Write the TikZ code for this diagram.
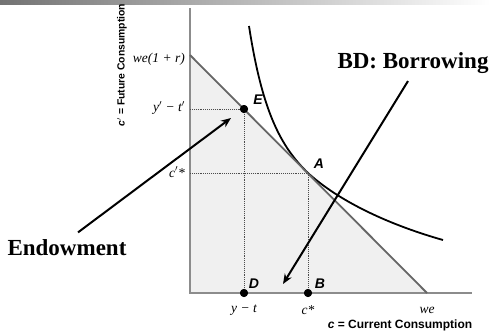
\documentclass[tikz,border=0pt]{standalone}
\usepackage{fontspec}
\setmainfont{Liberation Serif}
\setsansfont{Liberation Sans}
\usepackage{tikz}
\usetikzlibrary{arrows.meta,positioning,calc}

\begin{document}
\begin{tikzpicture}[x=1pt, y=-1pt,
    axis/.style={draw=black!45, line width=2pt},
    budget/.style={draw=black!60, line width=1.8pt},
    guide/.style={densely dotted, line width=0.9pt, black!70},
    dot/.style={circle, fill=black, inner sep=0pt, minimum size=8pt},
    tick/.style={font=\fontsize{13.5}{15}\selectfont\itshape, inner sep=1pt},
    ptlab/.style={font=\fontsize{14}{16}\selectfont\sffamily\bfseries\itshape, inner sep=1pt},
    axlab/.style={font=\sffamily\bfseries, inner sep=1pt},
    note/.style={font=\fontsize{23}{26}\selectfont\bfseries},
    arrow/.style={-{Stealth[length=10pt,width=8pt]}, line width=2pt}
]
    \useasboundingbox (0,0) rectangle (490,333);
    \shade[left color=black!55, right color=white] (0,0) rectangle (490,4);

    % feasible set and axes
    \fill[black!6] (190,55) -- (190,293) -- (427,293) -- cycle;
    \draw[axis] (190,8) -- (190,293) -- (472,293);

    % indifference curve and budget line
    \draw[line width=1.8pt] (249,26) .. controls (262,110) and (280,146) .. (308,173)
        .. controls (340,202) and (390,225) .. (443,240);
    \draw[budget] (190,55) -- (427,293);

    \coordinate (A) at (308,173);
    \node[dot] (E) at (244,109) {};
    \node[dot] (D) at (244,293) {};
    \node[dot] (B) at (308,293) {};
    \draw[guide] (190,109) -- (E.center) -- (D.center);
    \draw[guide] (190,173) -- (A) -- (B.center);
    \node[dot] at (E) {};
    \node[dot] at (D) {};
    \node[dot] at (B) {};

    % tick labels
    \node[tick, anchor=east] (wer) at (186,59) {we(1 + r)};
    \node[tick, anchor=east] (ytp) at (186,108) {y$'$ − t$'$};
    \node[tick, anchor=east] (cstp) at (186,172) {c$'$*};
    \node[tick] (yt) at (244,310) {y − t};
    \node[tick] (cst) at (308,310) {c*};
    \node[tick] (we) at (427,310) {we};

    \node[ptlab] (Elab) at (258,100) {E};
    \node[ptlab] (Alab) at (319,164) {A};
    \node[ptlab] (Dlab) at (254,284) {D};
    \node[ptlab] (Blab) at (320,284) {B};

    % axis titles
    \node[axlab, font=\fontsize{10.4}{12}\selectfont\sffamily\bfseries, rotate=90] (ylab) at (122,65) {\textit{c}$'$ = Future Consumption};
    \node[axlab, font=\fontsize{12}{14}\selectfont\sffamily\bfseries] (xlab) at (400,325) {\textit{c} = Current Consumption};

    % notes
    \node[note] (borrow) at (413,63) {BD: Borrowing};
    \node[note] (endow) at (67,248) {Endowment};
    \coordinate (etip) at (231,118);
    \coordinate (btip) at (283,284);
    \draw[arrow] ([xshift=11pt,yshift=4pt]endow.north) -- (etip);
    \draw[arrow] ([xshift=-5pt,yshift=-4pt]borrow.south) -- (btip);
\end{tikzpicture}
\end{document}
